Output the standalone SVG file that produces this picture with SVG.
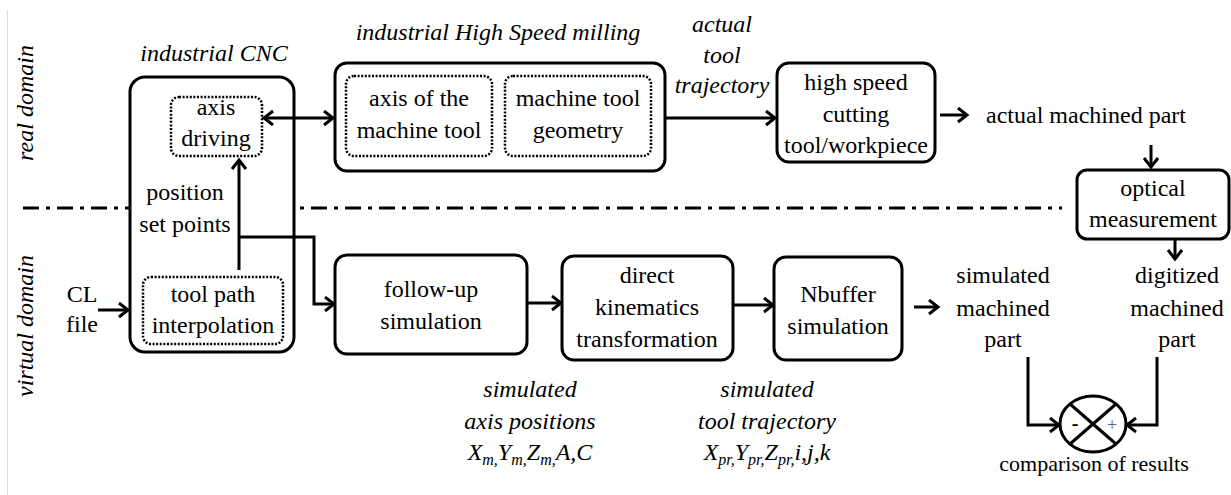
<svg xmlns="http://www.w3.org/2000/svg" width="1231" height="495" viewBox="0 0 1231 495">
<style>
text{font-family:"Liberation Serif","Times New Roman",serif;font-size:24px;text-anchor:middle;fill:#000}
.it{font-style:italic}
.box{fill:#fff;stroke:#000;stroke-width:3}
.dot{fill:none;stroke:#000;stroke-width:2.5;stroke-dasharray:2 1.6}
.ln{fill:none;stroke:#000;stroke-width:3}
.arr{fill:none;stroke:#000;stroke-width:3;marker-end:url(#ah)}
.sub{font-size:16px}
</style>
<defs>
<marker id="ah" markerUnits="userSpaceOnUse" markerWidth="16" markerHeight="18" refX="11" refY="8" orient="auto">
<path d="M2,1 L11,8 L2,15" fill="none" stroke="#000" stroke-width="3"/>
</marker>
<marker id="as" markerUnits="userSpaceOnUse" markerWidth="16" markerHeight="18" refX="11" refY="8" orient="auto-start-reverse">
<path d="M2,1 L11,8 L2,15" fill="none" stroke="#000" stroke-width="3"/>
</marker>
</defs>
<rect width="1231" height="495" fill="#fff"/>
<line x1="7.5" y1="10" x2="7.5" y2="495" stroke="#ddd" stroke-width="1"/>

<g id="domains">
<text class="it" transform="translate(33,103) rotate(-90)">real domain</text>
<text class="it" transform="translate(33,326) rotate(-90)">virtual domain</text>
<line x1="23" y1="208" x2="130" y2="208" stroke="#000" stroke-width="3" stroke-dasharray="16 7 4 7"/>
<line x1="300" y1="208" x2="1062" y2="208" stroke="#000" stroke-width="3" stroke-dasharray="4 7 16 7"/>
</g>

<g id="cnc">
<text class="it" x="214" y="61">industrial CNC</text>
<rect class="box" x="130" y="77" width="164" height="275" rx="15"/>
</g>

<g id="connectors">
<path class="arr" d="M239,270 V160"/>
<path class="arr" d="M239,237 H314 V304 H334"/>
<path class="ln" d="M264,118 H333" marker-start="url(#as)" marker-end="url(#ah)"/>
<path class="arr" d="M98,310 H128"/>
<path class="arr" d="M665,118 H775"/>
<path class="arr" d="M940,115 H967"/>
<path class="arr" d="M1151,145 V167"/>
<path class="arr" d="M1175,240 V259"/>
<path class="arr" d="M527,303 H561"/>
<path class="arr" d="M733,305 H773"/>
<path class="arr" d="M914,307 H938"/>
<path class="arr" d="M1028,357 V425 H1059"/>
<path class="arr" d="M1157,357 V425 H1127"/>
</g>

<g id="axis-driving">
<rect class="dot" x="171" y="97" width="91" height="59" rx="8"/>
<text x="216" y="115">axis</text>
<text x="216" y="146">driving</text>
</g>

<g id="position-set-points">
<text x="185" y="200">position</text>
<text x="185" y="232">set points</text>
</g>

<g id="tool-path-interpolation">
<rect class="dot" x="143" y="277" width="140" height="67" rx="8"/>
<text x="213" y="302">tool path</text>
<text x="213" y="333">interpolation</text>
</g>

<g id="cl-file">
<text x="82" y="302">CL</text>
<text x="82" y="332">file</text>
</g>

<g id="hsm">
<text class="it" x="498" y="40">industrial High Speed milling</text>
<rect class="box" x="335" y="63" width="330" height="108" rx="12"/>
<rect class="dot" x="346" y="76" width="146" height="80" rx="8"/>
<text x="419" y="106">axis of the</text>
<text x="419" y="138">machine tool</text>
<rect class="dot" x="505" y="76" width="146" height="80" rx="8"/>
<text x="578" y="106">machine tool</text>
<text x="578" y="138">geometry</text>
</g>

<g id="actual-tool-trajectory">
<text class="it" x="722" y="32">actual</text>
<text class="it" x="722" y="63">tool</text>
<text class="it" x="722" y="93">trajectory</text>
</g>

<g id="hsc">
<rect class="box" x="777" y="63" width="158" height="99" rx="12"/>
<text x="856" y="90">high speed</text>
<text x="856" y="122">cutting</text>
<text x="856" y="153">tool/workpiece</text>
</g>

<g id="actual-machined-part">
<text x="1086" y="123">actual machined part</text>
</g>

<g id="optical">
<rect class="box" x="1077" y="170" width="152" height="69" rx="10"/>
<text x="1153" y="196">optical</text>
<text x="1153" y="227">measurement</text>
</g>

<g id="follow-up">
<rect class="box" x="335" y="255" width="192" height="99" rx="12"/>
<text x="431" y="297">follow-up</text>
<text x="431" y="329">simulation</text>
</g>

<g id="direct-kinematics">
<rect class="box" x="562" y="256" width="171" height="104" rx="12"/>
<text x="647" y="283">direct</text>
<text x="647" y="315">kinematics</text>
<text x="647" y="347">transformation</text>
</g>

<g id="nbuffer">
<rect class="box" x="774" y="257" width="128" height="103" rx="12"/>
<text x="838" y="302">Nbuffer</text>
<text x="838" y="334">simulation</text>
</g>

<g id="simulated-part">
<text x="1003" y="283">simulated</text>
<text x="1003" y="316">machined</text>
<text x="1003" y="347">part</text>
</g>

<g id="digitized-part">
<text x="1177" y="283">digitized</text>
<text x="1177" y="316">machined</text>
<text x="1177" y="347">part</text>
</g>

<g id="comparison">
<ellipse cx="1093" cy="424" rx="33" ry="28" fill="#fff" stroke="#000" stroke-width="3"/>
<line x1="1070" y1="404" x2="1116" y2="444" stroke="#000" stroke-width="3"/>
<line x1="1116" y1="404" x2="1070" y2="444" stroke="#000" stroke-width="3"/>
<text x="1075" y="430" style="font-size:20px;font-weight:bold">-</text>
<text x="1112" y="431" style="font-size:18px;fill:#666">+</text>
<text x="1094" y="471" style="font-size:22px">comparison of results</text>
</g>

<g id="simulated-axis-positions">
<text class="it" x="530" y="397">simulated</text>
<text class="it" x="530" y="429">axis positions</text>
<text class="it" x="530" y="460">X<tspan class="sub" dy="5">m,</tspan><tspan dy="-5">Y</tspan><tspan class="sub" dy="5">m,</tspan><tspan dy="-5">Z</tspan><tspan class="sub" dy="5">m,</tspan><tspan dy="-5">A,C</tspan></text>
</g>

<g id="simulated-tool-trajectory">
<text class="it" x="767" y="397">simulated</text>
<text class="it" x="767" y="429">tool trajectory</text>
<text class="it" x="767" y="460">X<tspan class="sub" dy="5">pr,</tspan><tspan dy="-5">Y</tspan><tspan class="sub" dy="5">pr,</tspan><tspan dy="-5">Z</tspan><tspan class="sub" dy="5">pr,</tspan><tspan dy="-5">i,j,k</tspan></text>
</g>
</svg>
